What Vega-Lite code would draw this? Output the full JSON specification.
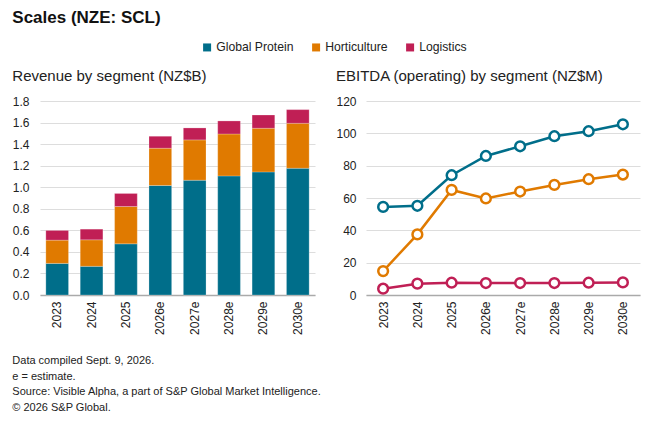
{
  "$schema": "https://vega.github.io/schema/vega-lite/v6.json",
  "background": "white",
  "padding": {"left": 12, "top": 9, "right": 10, "bottom": 4},
  "title": {
    "text": "Scales (NZE: SCL)",
    "anchor": "start",
    "fontSize": 17,
    "fontWeight": "bold",
    "font": "Liberation Sans",
    "color": "#111111",
    "offset": 14
  },
  "config": {
    "font": "Liberation Sans",
    "view": {"stroke": null},
    "axis": {"labelFontSize": 12, "labelColor": "#222222", "titleFontSize": 12},
    "title": {"font": "Liberation Sans"}
  },
  "datasets": {
    "revenue": [
      {"year": "2023", "segment": "Global Protein", "value": 0.293},
      {"year": "2023", "segment": "Horticulture", "value": 0.216},
      {"year": "2023", "segment": "Logistics", "value": 0.090},
      {"year": "2024", "segment": "Global Protein", "value": 0.266},
      {"year": "2024", "segment": "Horticulture", "value": 0.246},
      {"year": "2024", "segment": "Logistics", "value": 0.099},
      {"year": "2025", "segment": "Global Protein", "value": 0.475},
      {"year": "2025", "segment": "Horticulture", "value": 0.346},
      {"year": "2025", "segment": "Logistics", "value": 0.121},
      {"year": "2026e", "segment": "Global Protein", "value": 1.016},
      {"year": "2026e", "segment": "Horticulture", "value": 0.346},
      {"year": "2026e", "segment": "Logistics", "value": 0.111},
      {"year": "2027e", "segment": "Global Protein", "value": 1.065},
      {"year": "2027e", "segment": "Horticulture", "value": 0.374},
      {"year": "2027e", "segment": "Logistics", "value": 0.111},
      {"year": "2028e", "segment": "Global Protein", "value": 1.105},
      {"year": "2028e", "segment": "Horticulture", "value": 0.389},
      {"year": "2028e", "segment": "Logistics", "value": 0.121},
      {"year": "2029e", "segment": "Global Protein", "value": 1.142},
      {"year": "2029e", "segment": "Horticulture", "value": 0.405},
      {"year": "2029e", "segment": "Logistics", "value": 0.123},
      {"year": "2030e", "segment": "Global Protein", "value": 1.176},
      {"year": "2030e", "segment": "Horticulture", "value": 0.417},
      {"year": "2030e", "segment": "Logistics", "value": 0.127}
    ],
    "ebitda": [
      {"year": "2023", "segment": "Global Protein", "value": 54.5},
      {"year": "2024", "segment": "Global Protein", "value": 55.2},
      {"year": "2025", "segment": "Global Protein", "value": 74.1},
      {"year": "2026e", "segment": "Global Protein", "value": 86.0},
      {"year": "2027e", "segment": "Global Protein", "value": 92.0},
      {"year": "2028e", "segment": "Global Protein", "value": 98.2},
      {"year": "2029e", "segment": "Global Protein", "value": 101.3},
      {"year": "2030e", "segment": "Global Protein", "value": 105.6},
      {"year": "2023", "segment": "Horticulture", "value": 14.8},
      {"year": "2024", "segment": "Horticulture", "value": 37.5},
      {"year": "2025", "segment": "Horticulture", "value": 65.0},
      {"year": "2026e", "segment": "Horticulture", "value": 59.7},
      {"year": "2027e", "segment": "Horticulture", "value": 64.0},
      {"year": "2028e", "segment": "Horticulture", "value": 68.1},
      {"year": "2029e", "segment": "Horticulture", "value": 71.6},
      {"year": "2030e", "segment": "Horticulture", "value": 74.5},
      {"year": "2023", "segment": "Logistics", "value": 3.9},
      {"year": "2024", "segment": "Logistics", "value": 7.0},
      {"year": "2025", "segment": "Logistics", "value": 7.6},
      {"year": "2026e", "segment": "Logistics", "value": 7.4},
      {"year": "2027e", "segment": "Logistics", "value": 7.4},
      {"year": "2028e", "segment": "Logistics", "value": 7.4},
      {"year": "2029e", "segment": "Logistics", "value": 7.6},
      {"year": "2030e", "segment": "Logistics", "value": 7.8}
    ]
  },
  "vconcat": [
    {
      "title": {
        "text": [
          "Data compiled Sept. 9, 2026.",
          "e = estimate.",
          "Source: Visible Alpha, a part of S&P Global Market Intelligence.",
          "© 2026 S&P Global."
        ],
        "orient": "bottom",
        "anchor": "start",
        "fontSize": 11,
        "fontWeight": "normal",
        "color": "#222222",
        "lineHeight": 15.4,
        "offset": 21
      },
      "spacing": 20,
      "hconcat": [
        {
          "title": {
            "text": "Revenue by segment (NZ$B)",
            "anchor": "start",
            "fontSize": 15,
            "fontWeight": "normal",
            "color": "#222222",
            "offset": 11
          },
          "width": 275,
          "height": 194,
          "data": {"name": "revenue"},
          "mark": {"type": "bar", "stroke": "white", "strokeWidth": 0.4, "strokeOpacity": 0.6},
          "encoding": {
            "x": {
              "field": "year",
              "type": "nominal",
              "sort": null,
              "scale": {"paddingInner": 0.34, "paddingOuter": 0.17},
              "axis": {
                "title": null,
                "labelAngle": -90,
                "labelAlign": "right",
                "labelBaseline": "middle",
                "labelPadding": 6,
                "ticks": false,
                "domainColor": "#aaaaaa",
                "domainWidth": 1.5
              }
            },
            "y": {
              "field": "value",
              "type": "quantitative",
              "aggregate": "sum",
              "stack": "zero",
              "scale": {"domain": [0, 1.8]},
              "axis": {
                "title": null,
                "values": [0, 0.2, 0.4, 0.6, 0.8, 1.0, 1.2, 1.4, 1.6, 1.8],
                "format": ".1f",
                "domain": false,
                "ticks": false,
                "labelPadding": 11,
                "gridColor": "#dddddd"
              }
            },
            "color": {
              "field": "segment",
              "type": "nominal",
              "scale": {
                "domain": ["Global Protein", "Horticulture", "Logistics"],
                "range": ["#006e8a", "#e07a00", "#c01f55"]
              },
              "legend": {
                "title": null,
                "orient": "none",
                "direction": "horizontal",
                "legendX": 161,
                "legendY": -60,
                "symbolType": "square",
                "symbolSize": 64,
                "symbolStrokeWidth": 0,
                "labelFontSize": 12.2,
                "labelColor": "#222222",
                "labelOffset": 3,
                "columnPadding": 16
              }
            },
            "order": {"field": "segment", "sort": "ascending"}
          }
        },
        {
          "title": {
            "text": "EBITDA (operating) by segment (NZ$M)",
            "anchor": "start",
            "fontSize": 15,
            "fontWeight": "normal",
            "color": "#222222",
            "offset": 11
          },
          "width": 274,
          "height": 194,
          "data": {"name": "ebitda"},
          "encoding": {
            "x": {
              "field": "year",
              "type": "ordinal",
              "sort": null,
              "scale": {"type": "point", "padding": 0.5},
              "axis": {
                "title": null,
                "labelAngle": -90,
                "labelAlign": "right",
                "labelBaseline": "middle",
                "labelPadding": 6,
                "ticks": false,
                "domainColor": "#aaaaaa",
                "domainWidth": 1.5
              }
            },
            "y": {
              "field": "value",
              "type": "quantitative",
              "scale": {"domain": [0, 120]},
              "axis": {
                "title": null,
                "values": [0, 20, 40, 60, 80, 100, 120],
                "domain": false,
                "ticks": false,
                "labelPadding": 10,
                "gridColor": "#dddddd"
              }
            },
            "color": {
              "field": "segment",
              "type": "nominal",
              "legend": null
            }
          },
          "layer": [
            {"mark": {"type": "line", "strokeWidth": 2.5}},
            {
              "mark": {
                "type": "point",
                "shape": "circle",
                "size": 95,
                "filled": false,
                "fill": "white",
                "fillOpacity": 1,
                "strokeWidth": 2.5,
                "opacity": 1
              }
            }
          ]
        }
      ]
    }
  ]
}
